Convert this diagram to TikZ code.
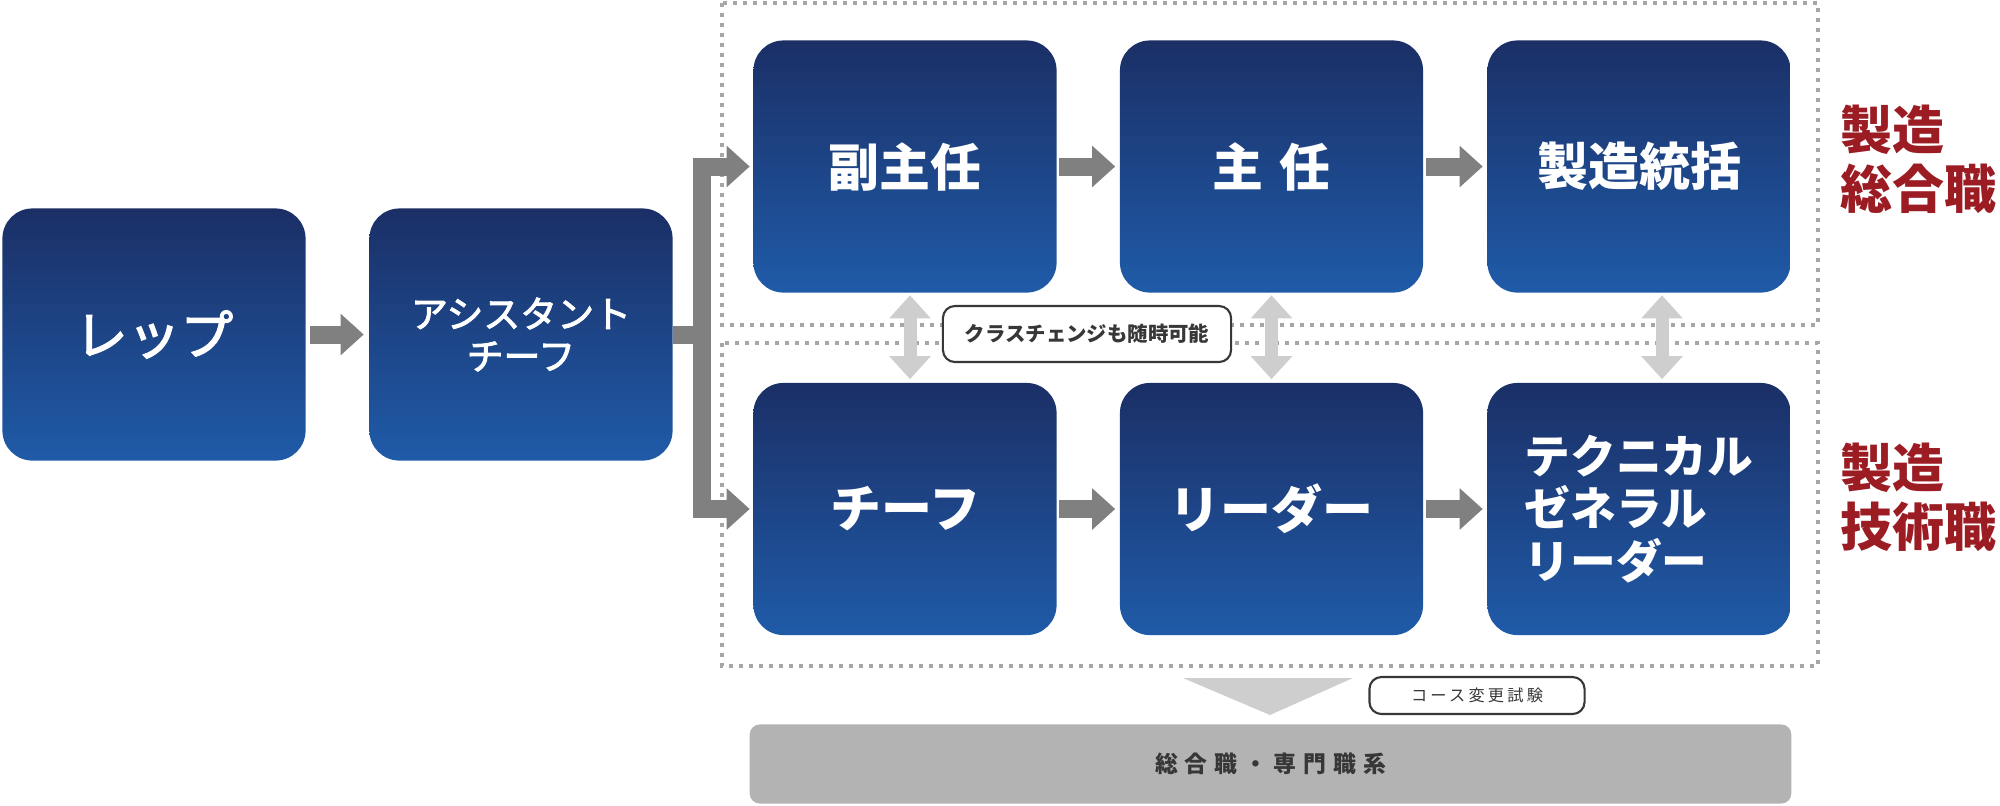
\documentclass[tikz,border=0pt]{standalone}
\usepackage{fontspec}
\usetikzlibrary{arrows.meta}
\newfontfamily\jpfont{Noto Sans CJK JP}
\newfontfamily\jpmedium{Noto Sans CJK JP}[FakeBold=2.5]
\definecolor{navytop}{RGB}{27,47,102}
\definecolor{navybot}{RGB}{31,91,168}
\definecolor{arrowgray}{RGB}{128,128,128}
\definecolor{palegray}{RGB}{206,206,206}
\definecolor{bargray}{RGB}{179,179,179}
\definecolor{textgray}{RGB}{55,55,55}
\definecolor{jobred}{RGB}{155,28,35}

\begin{document}
\begin{tikzpicture}[x=0.01cm,y=-0.01cm]
\tikzstyle{post}=[rounded corners=0.3cm,top color=navytop,bottom color=navybot,text=white,minimum width=3.03cm,minimum height=2.52cm,inner sep=0pt,align=center,font=\jpfont\bfseries\fontsize{14.5}{17}\selectfont]
\tikzstyle{bigarrow}=[draw=arrowgray,line width=0.18cm,line join=miter,-{Triangle[width=0.4cm,length=0.23cm]}]
\tikzstyle{swaparrow}=[draw=palegray,line width=0.13cm,{Triangle[width=0.4cm,length=0.23cm]}-{Triangle[width=0.4cm,length=0.23cm]},shorten <=0.02cm,shorten >=0.03cm]
\tikzstyle{dotbox}=[draw=gray!70,line width=0.035cm,dash pattern=on 0.04cm off 0.06cm]
\tikzstyle{tag}=[draw=textgray,line width=0.6pt,fill=white,rounded corners=0.12cm,text=textgray,inner sep=0pt]
\tikzstyle{course}=[text=jobred,align=left,anchor=west,inner sep=0pt,font=\jpfont\bfseries\fontsize{14.8}{16.8}\selectfont]
\useasboundingbox (0,0) rectangle (2000,805);

\draw[dotbox] (722,3) rectangle (1818,325);
\draw[dotbox] (722,343) rectangle (1818,666);

\node[post,font=\jpmedium\fontsize{15}{17}\selectfont] (rep) at (154,334.5) {レップ};
\node[post,font=\jpmedium\fontsize{10.5}{12}\selectfont] (asst) at (521,334.5) {アシスタント\\チーフ};
\node[post] (fuku) at (905,166.5) {副主任};
\node[post] (shunin) at (1271.5,166.5) {主\hspace{0.33em}任};
\node[post] (tokatsu) at (1639,166.5) {製造統括};
\node[post] (chief) at (905,509) {チーフ};
\node[post] (leader) at (1271.5,509) {リーダー};
\node[post,align=left,font=\jpfont\bfseries\fontsize{13}{15}\selectfont] (tech) at (1639,509) {テクニカル\\ゼネラル\\リーダー};

\coordinate (fork) at (702,0);
\draw[bigarrow,shorten <=0.04cm,shorten >=0.05cm] (rep) -- (asst);
\draw[bigarrow,-] (asst.east) -- (asst.east -| fork);
\draw[bigarrow,{Triangle[width=0.4cm,length=0.23cm]}-{Triangle[width=0.4cm,length=0.23cm]},shorten <=0.03cm,shorten >=0.03cm] (fuku.west) -- (fuku.west -| fork) -- (chief.west -| fork) -- (chief.west);
\draw[bigarrow,shorten <=0.02cm,shorten >=0.04cm] (fuku) -- (shunin);
\draw[bigarrow,shorten <=0.02cm,shorten >=0.04cm] (shunin) -- (tokatsu);
\draw[bigarrow,shorten <=0.02cm,shorten >=0.04cm] (chief) -- (leader);
\draw[bigarrow,shorten <=0.02cm,shorten >=0.04cm] (leader) -- (tech);

\draw[swaparrow] ([xshift=0.05cm]fuku.south) -- ([xshift=0.05cm]chief.north);
\draw[swaparrow] (shunin.south) -- (leader.north);
\draw[swaparrow] ([xshift=0.23cm]tokatsu.south) -- ([xshift=0.23cm]tech.north);

\node[tag,minimum width=2.88cm,minimum height=0.56cm,font=\jpfont\bfseries\fontsize{5.8}{7}\selectfont] (change) at (1087,334) {クラスチェンジも随時可能};

\node[course] (sogo) at (1840,159) {製造\\総合職};
\node[course] (gijutsu) at (1840,497) {製造\\技術職};

\fill[palegray] (1183,678) -- (1353,678) -- (1270,715) -- cycle;
\node[tag,minimum width=2.15cm,minimum height=0.37cm,font=\jpfont\fontsize{4.6}{6}\selectfont\addfontfeature{LetterSpace=20}] (exam) at (1477,695.5) {コース変更試験};
\node[fill=bargray,rounded corners=0.1cm,minimum width=10.41cm,minimum height=0.79cm,inner sep=0pt,text=textgray,font=\jpfont\bfseries\fontsize{6.5}{8}\selectfont\addfontfeature{LetterSpace=30}] (track) at (1270.5,764) {総合職・専門職系};
\end{tikzpicture}
\end{document}
